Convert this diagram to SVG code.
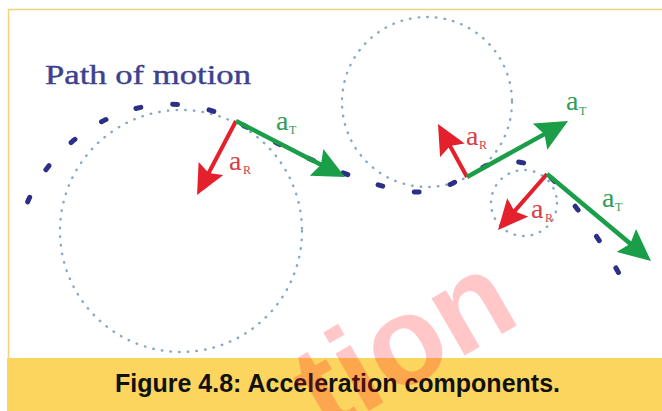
<svg xmlns="http://www.w3.org/2000/svg" width="662" height="411" viewBox="0 0 662 411">
  <style>
    .dot { fill: none; stroke: #86a8c2; stroke-width: 2.4; stroke-dasharray: 0.5 8.2; stroke-linecap: round; }
    .path { fill: none; stroke: #2b2f86; stroke-width: 5; stroke-dasharray: 5 32; stroke-linecap: round; }
    .red { stroke: #e3202b; stroke-width: 4; fill: none; marker-end: url(#hr); }
    .green { stroke: #1a9e48; stroke-width: 4.5; fill: none; marker-end: url(#hg); }
    .la { font-family: "Liberation Serif", "Times New Roman", serif; font-size: 28px; }
    .sub { font-family: "Liberation Serif", "Times New Roman", serif; font-size: 12px; }
    .lr { fill: #d63d47; }
    .lg { fill: #2f9c5a; }
  </style>
  <defs>
    <marker id="hr" markerUnits="userSpaceOnUse" markerWidth="30" markerHeight="28" viewBox="0 0 30 28" refX="20" refY="14" orient="auto">
      <path d="M0,0 L30,14 L0,28 L5,14 z" fill="#e3202b"/>
    </marker>
    <marker id="hg" markerUnits="userSpaceOnUse" markerWidth="32" markerHeight="30" viewBox="0 0 32 30" refX="22" refY="15" orient="auto">
      <path d="M0,0 L32,15 L0,30 L5,15 z" fill="#1a9e48"/>
    </marker>
  </defs>
  <rect x="0" y="0" width="662" height="411" fill="#ffffff"/>
  <g id="frame">
    <rect x="8.5" y="9.5" width="665" height="360" fill="#ffffff" stroke="#f2d27a" stroke-width="1.5"/>
    <rect x="7" y="358" width="655" height="53" fill="#fcd55e"/>
  </g>
  <g id="circles">
    <circle class="dot" cx="181" cy="231" r="121"/>
    <circle class="dot" cx="427" cy="102" r="85"/>
    <circle class="dot" cx="524" cy="203" r="33"/>
  </g>
  <g id="path-of-motion">
    <path class="path" stroke-dashoffset="-4.5" d="M26,206 C55,130 150,75 236,121 C300,158 380,192 418,192 C440,192 455,182 466,176 C484,166 495,161 505,161 C520,161 535,164 547,174 C565,189 605,245 624,283"/>
    <text x="45" y="84" font-family="'Liberation Serif', 'Times New Roman', serif" font-size="27" fill="#3d418e" stroke="#3d418e" stroke-width="0.4" textLength="206" lengthAdjust="spacingAndGlyphs">Path of motion</text>
  </g>
  <g id="connectors">
    <line class="red" x1="236" y1="121" x2="201.7" y2="186.2"/>
    <line class="green" x1="236" y1="121" x2="336.1" y2="172.4"/>
    <line class="red" x1="467" y1="177" x2="442.8" y2="132.8"/>
    <line class="green" x1="467" y1="177" x2="559.3" y2="125.9"/>
    <line class="red" x1="547" y1="174" x2="504.6" y2="222.5"/>
    <line class="green" x1="547" y1="174" x2="643.3" y2="254.6"/>
  </g>
  <g id="labels">
    <text class="la lg" x="276" y="130">a</text><text class="sub lg" x="289" y="134">T</text>
    <text class="la lr" x="229" y="170">a</text><text class="sub lr" x="243" y="174">R</text>
    <text class="la lr" x="466" y="145">a</text><text class="sub lr" x="479" y="149">R</text>
    <text class="la lg" x="566" y="110">a</text><text class="sub lg" x="579" y="115">T</text>
    <text class="la lr" x="531" y="218">a</text><text class="sub lr" x="545" y="222">R</text>
    <text class="la lg" x="602" y="207">a</text><text class="sub lg" x="615" y="211">T</text>
  </g>
  <g id="caption">
    <text x="115" y="392" font-family="'Liberation Sans', Arial, sans-serif" font-weight="bold" font-size="25" fill="#111111" textLength="445" lengthAdjust="spacingAndGlyphs">Figure 4.8: Acceleration components.</text>
  </g>
  <g id="watermark" opacity="0.24">
    <text transform="translate(325,436) rotate(-30)" x="0" y="0" font-family="'Liberation Sans', Arial, sans-serif" font-weight="bold" font-size="125" fill="#ff1a1a">tion</text>
  </g>
</svg>
